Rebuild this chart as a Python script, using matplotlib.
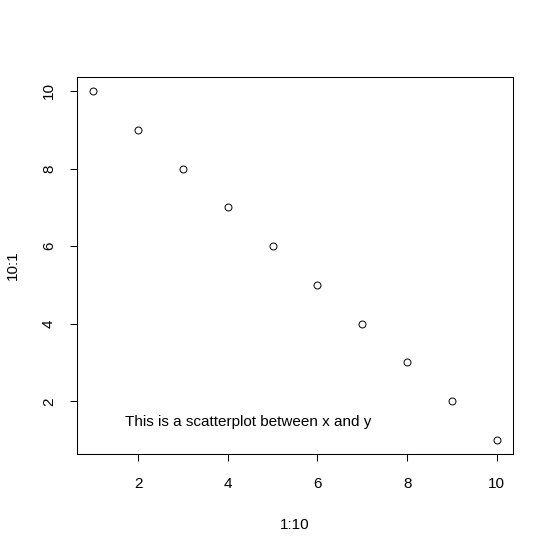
import matplotlib
matplotlib.use("Agg")
import matplotlib.pyplot as plt

# data: plot(1:10, 10:1)
x = [1, 2, 3, 4, 5, 6, 7, 8, 9, 10]
y = [10, 9, 8, 7, 6, 5, 4, 3, 2, 1]
xticks = [2, 4, 6, 8, 10]
yticks = [2, 4, 6, 8, 10]
note = "This is a scatterplot between x and y"

plt.rcParams['font.family'] = ['Liberation Sans', 'DejaVu Sans']
plt.rcParams['font.size'] = 11

fig = plt.figure(figsize=(5.53, 5.52), dpi=100)
ax = fig.add_axes([77 / 553, 1 - 454 / 552, 436 / 553, 377 / 552])

ax.plot(x, y, linestyle='none', marker='o', markersize=5, markerfacecolor='none',
        markeredgecolor='black', markeredgewidth=0.7)
ax.text(4.45, 1.47, note, ha='center', va='center', fontsize=11)

ax.set_xlim(0.64, 10.36)
ax.set_ylim(0.64, 10.36)
ax.set_xticks(xticks)
ax.set_yticks(yticks)
ax.set_yticklabels([str(v) for v in yticks], rotation=90, va='center')
ax.tick_params(axis='x', pad=11)
ax.tick_params(axis='y', pad=10)
ax.tick_params(direction='out', length=5.2, width=0.75, colors='black')
for s in ax.spines.values():
    s.set_linewidth(0.75)

ax.set_xlabel('1:10', labelpad=20)
ax.set_ylabel('10:1', labelpad=16)

fig.savefig('out.png', dpi=100)
